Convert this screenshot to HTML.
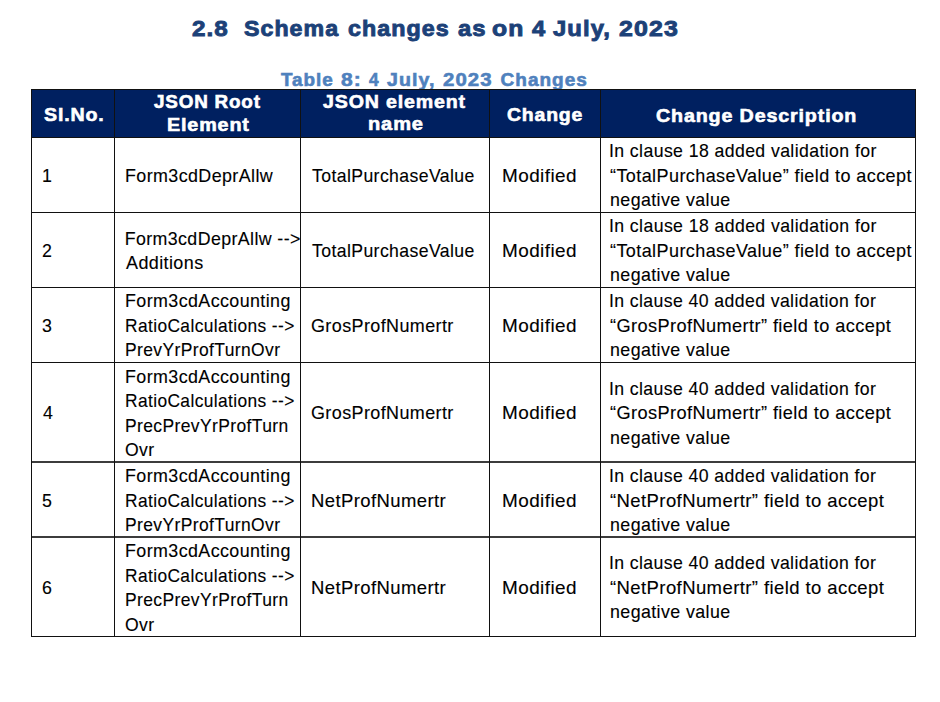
<!DOCTYPE html>
<html><head><meta charset="utf-8"><style>
html,body{margin:0;padding:0;background:#fff;width:940px;height:702px;overflow:hidden;position:relative}
.f{position:absolute;white-space:pre;font-family:"Liberation Sans",sans-serif;line-height:1;transform-origin:0 0}
.hl{position:absolute;background:#111;height:1px}
.vl{position:absolute;background:#111;width:1px}
.hdr{position:absolute;background:#002060}
.c{position:absolute;display:flex;flex-direction:column;justify-content:center;align-items:flex-start;font-family:"Liberation Sans",sans-serif;white-space:pre;
color:#000;font-size:17.8px;line-height:24.5px;letter-spacing:0.4px;-webkit-text-stroke:0.12px #000}
.c div{transform-origin:0 0}
</style></head><body>
<div class='f' style='left:281.09px;top:69.80px;font-size:19px;font-weight:bold;color:#4f81bd;letter-spacing:1.0px;-webkit-text-stroke:0.6px #4f81bd;transform:scaleX(0.9926)'>Table</div>
<div class='f' style='left:340.50px;top:69.80px;font-size:19px;font-weight:bold;color:#4f81bd;letter-spacing:1.0px;-webkit-text-stroke:0.6px #4f81bd;transform:scaleX(1.1059)'>8:</div>
<div class='f' style='left:369.21px;top:69.80px;font-size:19px;font-weight:bold;color:#4f81bd;letter-spacing:1.0px;-webkit-text-stroke:0.6px #4f81bd;transform:scaleX(0.9083)'>4</div>
<div class='f' style='left:386.50px;top:69.80px;font-size:19px;font-weight:bold;color:#4f81bd;letter-spacing:1.0px;-webkit-text-stroke:0.6px #4f81bd;transform:scaleX(1.0326)'>July,</div>
<div class='f' style='left:442.80px;top:69.80px;font-size:19px;font-weight:bold;color:#4f81bd;letter-spacing:1.0px;-webkit-text-stroke:0.6px #4f81bd;transform:scaleX(1.0717)'>2023</div>
<div class='f' style='left:500.60px;top:69.80px;font-size:19px;font-weight:bold;color:#4f81bd;letter-spacing:1.0px;-webkit-text-stroke:0.6px #4f81bd;transform:scaleX(1.0000)'>Changes</div>
<div class="hdr" style="left:31px;top:89px;width:885px;height:49px"></div>
<div class="c" style="left:32px;top:139px;width:122px;height:74px"><div style="margin-left:10.10px;">1</div></div>
<div class="c" style="left:115px;top:139px;width:225px;height:74px"><div style="margin-left:9.69px;transform:scaleX(1.0055);">Form3cdDeprAllw</div></div>
<div class="c" style="left:301px;top:139px;width:228px;height:74px"><div style="margin-left:10.90px;transform:scaleX(0.9920);">TotalPurchaseValue</div></div>
<div class="c" style="left:490px;top:139px;width:150px;height:74px"><div style="margin-left:11.54px;transform:scaleX(1.0647);">Modified</div></div>
<div class="c" style="left:601px;top:139px;width:354px;height:74px"><div style="margin-left:8.01px;transform:scaleX(0.9944);">In clause 18 added validation for</div><div style="margin-left:8.99px;transform:scaleX(1.0139);">“TotalPurchaseValue” field to accept</div><div style="margin-left:9.00px;transform:scaleX(1.0025);">negative value</div></div>
<div class="c" style="left:32px;top:214px;width:122px;height:74px"><div style="margin-left:10.10px;">2</div></div>
<div class="c" style="left:115px;top:214px;width:225px;height:74px"><div style="margin-left:9.70px;">Form3cdDeprAllw --&gt;</div><div style="margin-left:10.70px;transform:scaleX(1.0105);">Additions</div></div>
<div class="c" style="left:301px;top:214px;width:228px;height:74px"><div style="margin-left:10.90px;transform:scaleX(0.9920);">TotalPurchaseValue</div></div>
<div class="c" style="left:490px;top:214px;width:150px;height:74px"><div style="margin-left:11.54px;transform:scaleX(1.0647);">Modified</div></div>
<div class="c" style="left:601px;top:214px;width:354px;height:74px"><div style="margin-left:8.01px;transform:scaleX(0.9944);">In clause 18 added validation for</div><div style="margin-left:8.99px;transform:scaleX(1.0139);">“TotalPurchaseValue” field to accept</div><div style="margin-left:9.00px;transform:scaleX(1.0025);">negative value</div></div>
<div class="c" style="left:32px;top:289px;width:122px;height:74px"><div style="margin-left:10.10px;">3</div></div>
<div class="c" style="left:115px;top:289px;width:225px;height:74px"><div style="margin-left:9.70px;transform:scaleX(1.0049);">Form3cdAccounting</div><div style="margin-left:9.72px;transform:scaleX(0.9756);">RatioCalculations --&gt;</div><div style="margin-left:9.72px;transform:scaleX(0.9815);">PrevYrProfTurnOvr</div></div>
<div class="c" style="left:301px;top:289px;width:228px;height:74px"><div style="margin-left:9.89px;transform:scaleX(1.0093);">GrosProfNumertr</div></div>
<div class="c" style="left:490px;top:289px;width:150px;height:74px"><div style="margin-left:11.54px;transform:scaleX(1.0647);">Modified</div></div>
<div class="c" style="left:601px;top:289px;width:354px;height:74px"><div style="margin-left:8.01px;transform:scaleX(0.9929);">In clause 40 added validation for</div><div style="margin-left:8.98px;transform:scaleX(1.0223);">“GrosProfNumertr” field to accept</div><div style="margin-left:9.00px;transform:scaleX(1.0025);">negative value</div></div>
<div class="c" style="left:32px;top:364px;width:122px;height:99px"><div style="margin-left:11.10px;">4</div></div>
<div class="c" style="left:115px;top:364px;width:225px;height:99px"><div style="margin-left:9.70px;transform:scaleX(1.0049);">Form3cdAccounting</div><div style="margin-left:9.72px;transform:scaleX(0.9756);">RatioCalculations --&gt;</div><div style="margin-left:9.72px;transform:scaleX(0.9823);">PrecPrevYrProfTurn</div><div style="margin-left:9.71px;transform:scaleX(0.9893);">Ovr</div></div>
<div class="c" style="left:301px;top:364px;width:228px;height:99px"><div style="margin-left:9.89px;transform:scaleX(1.0093);">GrosProfNumertr</div></div>
<div class="c" style="left:490px;top:364px;width:150px;height:99px"><div style="margin-left:11.54px;transform:scaleX(1.0647);">Modified</div></div>
<div class="c" style="left:601px;top:364px;width:354px;height:99px"><div style="margin-left:8.01px;transform:scaleX(0.9929);">In clause 40 added validation for</div><div style="margin-left:8.98px;transform:scaleX(1.0223);">“GrosProfNumertr” field to accept</div><div style="margin-left:9.00px;transform:scaleX(1.0025);">negative value</div></div>
<div class="c" style="left:32px;top:464px;width:122px;height:74px"><div style="margin-left:10.10px;">5</div></div>
<div class="c" style="left:115px;top:464px;width:225px;height:74px"><div style="margin-left:9.70px;transform:scaleX(1.0049);">Form3cdAccounting</div><div style="margin-left:9.72px;transform:scaleX(0.9756);">RatioCalculations --&gt;</div><div style="margin-left:9.72px;transform:scaleX(0.9815);">PrevYrProfTurnOvr</div></div>
<div class="c" style="left:301px;top:464px;width:228px;height:74px"><div style="margin-left:9.86px;transform:scaleX(1.0388);">NetProfNumertr</div></div>
<div class="c" style="left:490px;top:464px;width:150px;height:74px"><div style="margin-left:11.54px;transform:scaleX(1.0647);">Modified</div></div>
<div class="c" style="left:601px;top:464px;width:354px;height:74px"><div style="margin-left:8.01px;transform:scaleX(0.9929);">In clause 40 added validation for</div><div style="margin-left:8.96px;transform:scaleX(1.0397);">“NetProfNumertr” field to accept</div><div style="margin-left:9.00px;transform:scaleX(1.0025);">negative value</div></div>
<div class="c" style="left:32px;top:539px;width:122px;height:98px"><div style="margin-left:10.10px;">6</div></div>
<div class="c" style="left:115px;top:539px;width:225px;height:98px"><div style="margin-left:9.70px;transform:scaleX(1.0049);">Form3cdAccounting</div><div style="margin-left:9.72px;transform:scaleX(0.9756);">RatioCalculations --&gt;</div><div style="margin-left:9.72px;transform:scaleX(0.9823);">PrecPrevYrProfTurn</div><div style="margin-left:9.71px;transform:scaleX(0.9893);">Ovr</div></div>
<div class="c" style="left:301px;top:539px;width:228px;height:98px"><div style="margin-left:9.86px;transform:scaleX(1.0388);">NetProfNumertr</div></div>
<div class="c" style="left:490px;top:539px;width:150px;height:98px"><div style="margin-left:11.54px;transform:scaleX(1.0647);">Modified</div></div>
<div class="c" style="left:601px;top:539px;width:354px;height:98px"><div style="margin-left:8.01px;transform:scaleX(0.9929);">In clause 40 added validation for</div><div style="margin-left:8.96px;transform:scaleX(1.0397);">“NetProfNumertr” field to accept</div><div style="margin-left:9.00px;transform:scaleX(1.0025);">negative value</div></div>
<div class="hl" style="left:31px;top:89px;width:885px"></div>
<div class="hl" style="left:31px;top:137px;width:885px"></div>
<div class="hl" style="left:31px;top:212px;width:885px"></div>
<div class="hl" style="left:31px;top:287px;width:885px"></div>
<div class="hl" style="left:31px;top:362px;width:885px"></div>
<div class="hl" style="left:31px;top:461px;width:885px;height:2px;background:#3c3c3c"></div>
<div class="hl" style="left:31px;top:536px;width:885px;height:2px;background:#3c3c3c"></div>
<div class="hl" style="left:31px;top:636px;width:885px"></div>
<div class="vl" style="left:31px;top:89px;height:548px"></div>
<div class="vl" style="left:114px;top:89px;height:548px"></div>
<div class="vl" style="left:300px;top:89px;height:548px"></div>
<div class="vl" style="left:489px;top:89px;height:548px"></div>
<div class="vl" style="left:600px;top:89px;height:548px"></div>
<div class="vl" style="left:915px;top:89px;height:548px"></div>
<div class='f' style='left:192.00px;top:17.80px;font-size:22.5px;font-weight:bold;color:#1c4178;letter-spacing:1.0px;-webkit-text-stroke:0.9px #1c4178;transform:scaleX(1.0765)'>2.8</div>
<div class='f' style='left:243.50px;top:17.80px;font-size:22.5px;font-weight:bold;color:#1c4178;letter-spacing:1.0px;-webkit-text-stroke:0.9px #1c4178;transform:scaleX(1.0304)'>Schema</div>
<div class='f' style='left:348.00px;top:17.80px;font-size:22.5px;font-weight:bold;color:#1c4178;letter-spacing:1.0px;-webkit-text-stroke:0.9px #1c4178;transform:scaleX(1.0340)'>changes</div>
<div class='f' style='left:457.70px;top:17.80px;font-size:22.5px;font-weight:bold;color:#1c4178;letter-spacing:1.0px;-webkit-text-stroke:0.9px #1c4178;transform:scaleX(1.0577)'>as</div>
<div class='f' style='left:492.00px;top:17.80px;font-size:22.5px;font-weight:bold;color:#1c4178;letter-spacing:1.0px;-webkit-text-stroke:0.9px #1c4178;transform:scaleX(1.1000)'>on</div>
<div class='f' style='left:532.25px;top:17.80px;font-size:22.5px;font-weight:bold;color:#1c4178;letter-spacing:1.0px;-webkit-text-stroke:0.9px #1c4178;transform:scaleX(1.0533)'>4</div>
<div class='f' style='left:553.40px;top:17.80px;font-size:22.5px;font-weight:bold;color:#1c4178;letter-spacing:1.0px;-webkit-text-stroke:0.9px #1c4178;transform:scaleX(1.0604)'>July,</div>
<div class='f' style='left:618.50px;top:17.80px;font-size:22.5px;font-weight:bold;color:#1c4178;letter-spacing:1.0px;-webkit-text-stroke:0.9px #1c4178;transform:scaleX(1.1075)'>2023</div>
<div class='f' style='left:43.50px;top:106.10px;font-size:18.5px;font-weight:bold;color:#fff;letter-spacing:0.8px;-webkit-text-stroke:0.6px #fff;transform:scaleX(1.0589)'>Sl.No.</div>
<div class='f' style='left:153.60px;top:92.90px;font-size:18.5px;font-weight:bold;color:#fff;letter-spacing:0.8px;-webkit-text-stroke:0.6px #fff;transform:scaleX(1.0181)'>JSON Root</div>
<div class='f' style='left:166.90px;top:115.90px;font-size:18.5px;font-weight:bold;color:#fff;letter-spacing:0.8px;-webkit-text-stroke:0.6px #fff;transform:scaleX(1.0675)'>Element</div>
<div class='f' style='left:322.70px;top:92.90px;font-size:18.5px;font-weight:bold;color:#fff;letter-spacing:0.8px;-webkit-text-stroke:0.6px #fff;transform:scaleX(1.0585)'>JSON element</div>
<div class='f' style='left:367.80px;top:115.20px;font-size:18.5px;font-weight:bold;color:#fff;letter-spacing:0.8px;-webkit-text-stroke:0.6px #fff;transform:scaleX(1.0843)'>name</div>
<div class='f' style='left:507.10px;top:105.90px;font-size:18.5px;font-weight:bold;color:#fff;letter-spacing:0.8px;-webkit-text-stroke:0.6px #fff;transform:scaleX(1.0486)'>Change</div>
<div class='f' style='left:656.00px;top:106.50px;font-size:18.5px;font-weight:bold;color:#fff;letter-spacing:0.8px;-webkit-text-stroke:0.6px #fff;transform:scaleX(1.0638)'>Change Description</div>
</body></html>
